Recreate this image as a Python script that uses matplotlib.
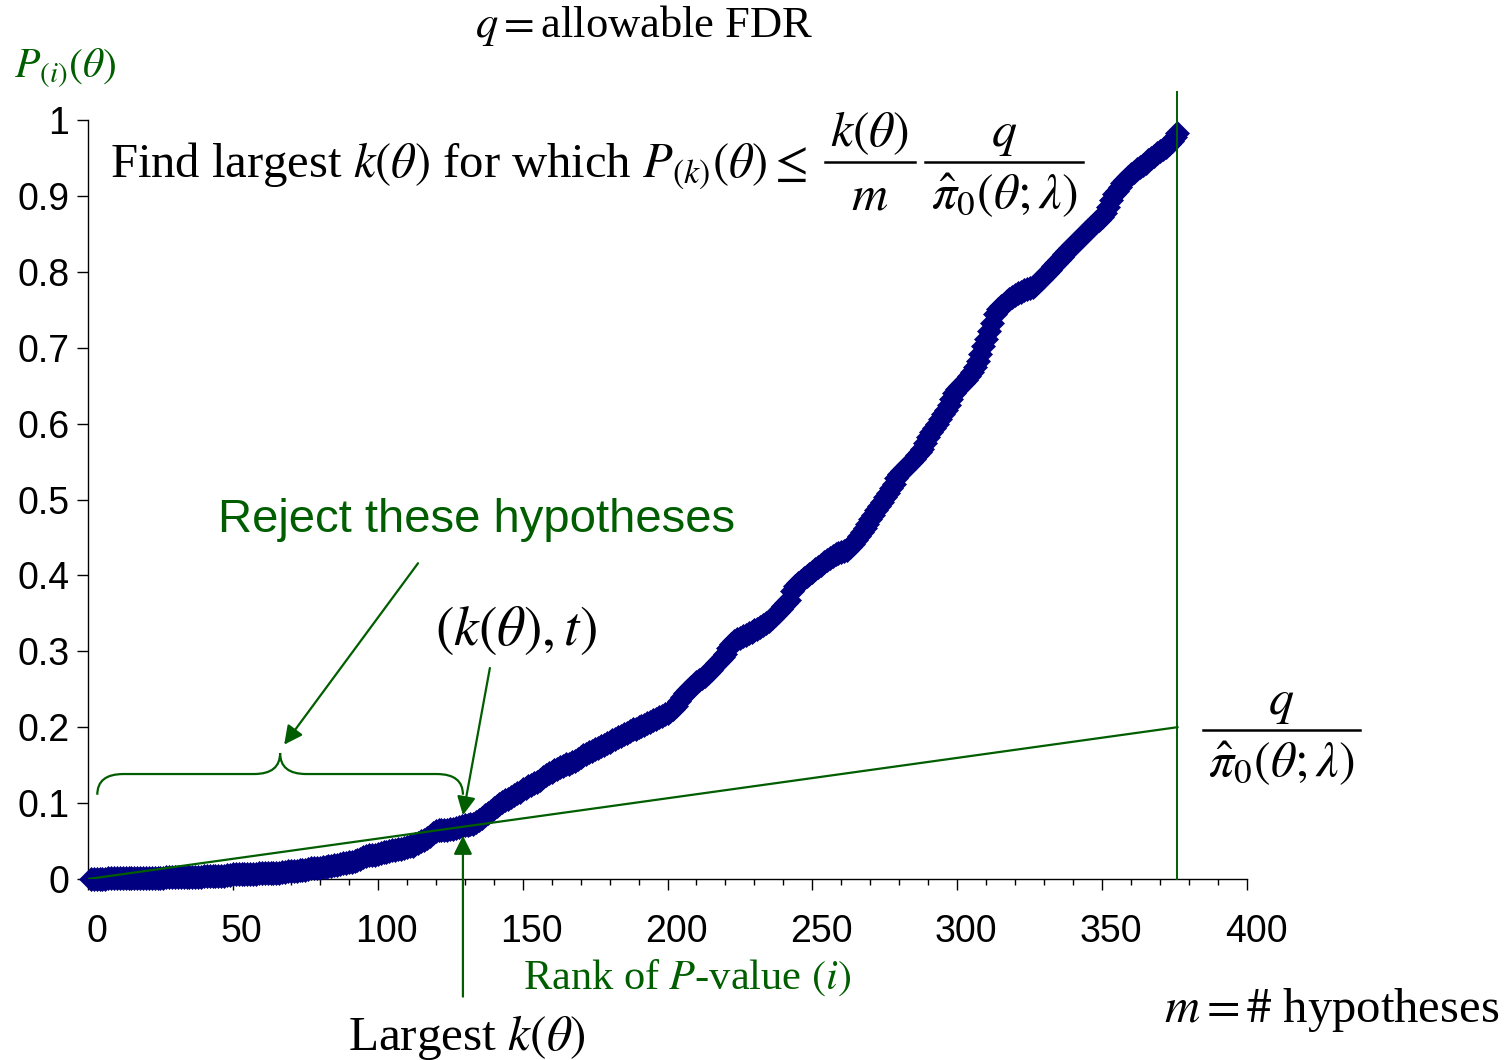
import numpy as np
import matplotlib
matplotlib.use("Agg")
import matplotlib.pyplot as plt
from matplotlib.lines import Line2D
from matplotlib.path import Path
from matplotlib.patches import PathPatch
from matplotlib.transforms import ScaledTranslation

plt.rcParams["mathtext.fontset"] = "stix"

# sorted p-values, one per rank i = 1..m
p_values = [
    0.000, 0.000, 0.000, 0.000, 0.000, 0.000, 0.001, 0.001, 0.001, 0.001,
    0.001, 0.001, 0.001, 0.001, 0.001, 0.001, 0.001, 0.001, 0.001, 0.001,
    0.001, 0.001, 0.001, 0.001, 0.001, 0.001, 0.002, 0.002, 0.003, 0.003,
    0.003, 0.003, 0.003, 0.003, 0.003, 0.003, 0.003, 0.003, 0.003, 0.004,
    0.004, 0.004, 0.004, 0.004, 0.004, 0.004, 0.004, 0.005, 0.005, 0.006,
    0.007, 0.007, 0.007, 0.007, 0.007, 0.007, 0.007, 0.007, 0.008, 0.008,
    0.008, 0.008, 0.008, 0.008, 0.008, 0.008, 0.009, 0.009, 0.010, 0.011,
    0.011, 0.011, 0.012, 0.012, 0.012, 0.013, 0.014, 0.015, 0.015, 0.015,
    0.016, 0.016, 0.017, 0.017, 0.018, 0.019, 0.020, 0.021, 0.021, 0.022,
    0.023, 0.024, 0.025, 0.027, 0.029, 0.030, 0.031, 0.032, 0.032, 0.033,
    0.034, 0.035, 0.036, 0.037, 0.038, 0.038, 0.039, 0.040, 0.041, 0.042,
    0.043, 0.044, 0.046, 0.048, 0.050, 0.052, 0.054, 0.057, 0.060, 0.063,
    0.064, 0.064, 0.065, 0.065, 0.066, 0.066, 0.067, 0.068, 0.070, 0.071,
    0.071, 0.072, 0.073, 0.075, 0.078, 0.081, 0.084, 0.087, 0.090, 0.093,
    0.096, 0.099, 0.102, 0.104, 0.106, 0.108, 0.111, 0.113, 0.115, 0.118,
    0.120, 0.122, 0.124, 0.126, 0.128, 0.131, 0.134, 0.137, 0.139, 0.141,
    0.143, 0.145, 0.147, 0.149, 0.151, 0.152, 0.154, 0.156, 0.158, 0.161,
    0.163, 0.165, 0.167, 0.169, 0.171, 0.173, 0.175, 0.177, 0.179, 0.181,
    0.183, 0.185, 0.187, 0.189, 0.191, 0.193, 0.195, 0.197, 0.198, 0.200,
    0.202, 0.203, 0.205, 0.207, 0.209, 0.211, 0.213, 0.215, 0.217, 0.219,
    0.221, 0.224, 0.228, 0.234, 0.240, 0.245, 0.249, 0.253, 0.256, 0.259,
    0.262, 0.265, 0.268, 0.272, 0.276, 0.280, 0.284, 0.288, 0.292, 0.296,
    0.305, 0.310, 0.314, 0.316, 0.318, 0.320, 0.322, 0.324, 0.326, 0.328,
    0.330, 0.332, 0.334, 0.337, 0.340, 0.344, 0.348, 0.352, 0.356, 0.360,
    0.364, 0.368, 0.380, 0.386, 0.390, 0.393, 0.396, 0.399, 0.402, 0.405,
    0.408, 0.411, 0.414, 0.417, 0.420, 0.423, 0.426, 0.428, 0.430, 0.431,
    0.432, 0.434, 0.438, 0.442, 0.447, 0.452, 0.457, 0.462, 0.468, 0.474,
    0.480, 0.486, 0.491, 0.497, 0.503, 0.509, 0.515, 0.521, 0.528, 0.533,
    0.537, 0.541, 0.545, 0.550, 0.554, 0.558, 0.563, 0.567, 0.575, 0.582,
    0.589, 0.594, 0.600, 0.606, 0.612, 0.618, 0.625, 0.633, 0.640, 0.646,
    0.650, 0.654, 0.658, 0.663, 0.668, 0.674, 0.682, 0.692, 0.702, 0.712,
    0.722, 0.733, 0.745, 0.751, 0.755, 0.758, 0.761, 0.764, 0.767, 0.770,
    0.772, 0.774, 0.776, 0.777, 0.778, 0.780, 0.783, 0.787, 0.791, 0.795,
    0.799, 0.803, 0.807, 0.811, 0.815, 0.819, 0.823, 0.827, 0.831, 0.835,
    0.839, 0.843, 0.847, 0.851, 0.855, 0.859, 0.862, 0.865, 0.868, 0.872,
    0.878, 0.886, 0.895, 0.902, 0.907, 0.912, 0.917, 0.921, 0.925, 0.929,
    0.932, 0.935, 0.938, 0.941, 0.944, 0.947, 0.950, 0.953, 0.956, 0.959,
    0.962, 0.965, 0.968, 0.972, 0.977, 0.983,
]
q_over_pi0 = 0.2  # q / pi0_hat(theta; lambda)

x_ticks = [0, 50, 100, 150, 200, 250, 300, 350, 400]
y_ticks = [0, 0.1, 0.2, 0.3, 0.4, 0.5, 0.6, 0.7, 0.8, 0.9, 1]
y_tick_labels = ["0", "0.1", "0.2", "0.3", "0.4", "0.5", "0.6", "0.7", "0.8", "0.9", "1"]

GREEN = "#005e00"
NAVY = "#000080"
SERIF = "Liberation Serif"
SANS = "Liberation Sans"

ranks = np.arange(1, len(p_values) + 1)
m = len(p_values)
pv = np.array(p_values)

# BH step-up: largest rank whose p-value sits under the line i/m * q/pi0
bh_line = ranks / m * q_over_pi0
passing = np.nonzero(pv <= bh_line)[0]
k = ranks[passing[-1]]
t = pv[passing[-1]]

W, H = 1504, 1060
fig = plt.figure(figsize=(W / 100, H / 100), dpi=100)
ax = fig.add_axes([88 / W, 181 / H, (1247 - 88) / W, (879 - 120) / H])


def fpos(x, y):
    # pixel position (from top-left) -> figure fraction
    return x / W, 1 - y / H


def fraction(x0, x1, ybar, num, den, size):
    # stacked fraction with a drawn bar, positions in pixels
    xc = (x0 + x1) / 2
    fig.text(*fpos(xc, ybar - 16), num, fontsize=size, ha="center", va="baseline")
    fig.text(*fpos(xc, ybar + 47), den, fontsize=size, ha="center", va="baseline")
    fig.add_artist(Line2D([x0 / W, x1 / W], [1 - ybar / H] * 2, color="black",
                          lw=1.8, transform=fig.transFigure))


ax.plot(ranks, pv, linestyle="none", marker="D", ms=12, color=NAVY,
        mec=NAVY, mew=0.5, clip_on=False, zorder=3)
ax.plot([0, m], [0, q_over_pi0], color=GREEN, lw=1.6, zorder=4)
ax.plot([m, m], [0, 1.037], color=GREEN, lw=1.4, clip_on=False, zorder=4)

ax.set_xlim(0, 400)
ax.set_ylim(0, 1)
for side in ("top", "right"):
    ax.spines[side].set_visible(False)
for side in ("left", "bottom"):
    ax.spines[side].set_linewidth(1.0)

ax.set_xticks(x_ticks)
ax.set_xticks(np.arange(0, 401, 10), minor=True)
ax.set_yticks(y_ticks)
ax.set_yticklabels(y_tick_labels)
ax.tick_params(axis="x", which="major", direction="out", length=8, width=1,
               pad=17, labelsize=27)
ax.tick_params(axis="x", which="minor", direction="out", length=4.5, width=1)
ax.tick_params(axis="y", direction="out", length=8, width=1, pad=5.5, labelsize=27)
for lbl in ax.get_xticklabels() + ax.get_yticklabels():
    lbl.set_fontfamily(SANS)
shift = ScaledTranslation(9 / 100, 0, fig.dpi_scale_trans)
for lbl in ax.get_xticklabels():
    lbl.set_transform(lbl.get_transform() + shift)

# brace over the rejected ranks
bx0, bx1 = 3.2, k + 1.4
bmid = (bx0 + bx1) / 2
by, bend, btip = 0.1383, 0.111, 0.166
dx = 9.0
verts = [
    (bx0, bend), (bx0, by), (bx0 + dx, by),
    (bmid - dx, by),
    (bmid, by), (bmid, btip),
    (bmid, by), (bmid + dx, by),
    (bx1 - dx, by),
    (bx1, by), (bx1, bend),
]
codes = [Path.MOVETO, Path.CURVE3, Path.CURVE3, Path.LINETO,
         Path.CURVE3, Path.CURVE3, Path.CURVE3, Path.CURVE3,
         Path.LINETO, Path.CURVE3, Path.CURVE3]
ax.add_patch(PathPatch(Path(verts, codes), fill=False, edgecolor=GREEN,
                       lw=1.6, clip_on=False))

arrow = dict(arrowstyle="-|>", color=GREEN, lw=1.6, mutation_scale=28,
             shrinkA=0, shrinkB=0)
ax.annotate("", xy=(bmid + 1.4, btip + 0.011), xytext=(113.9, 0.416),
            arrowprops=arrow, annotation_clip=False)
ax.annotate("", xy=(k + 1.4, t + 0.016), xytext=(k + 10.7, 0.278),
            arrowprops=arrow, annotation_clip=False)
ax.annotate("", xy=(k + 1.4, t - 0.011), xytext=(k + 1.4, -0.155),
            arrowprops=arrow, annotation_clip=False)

# labels and formulas
fig.text(*fpos(644, 25), r"$q = $allowable FDR", fontsize=32, family=SERIF,
         ha="center", va="center")
fig.text(*fpos(65, 68), r"$P_{(i)}(\theta)$", fontsize=30, color=GREEN,
         ha="center", va="center")
fig.text(*fpos(110, 177),
         r"Find largest $k(\theta)$ for which $P_{(k)}(\theta) \leq$",
         fontsize=35, family=SERIF, ha="left", va="baseline")
fraction(825, 915, 162, r"$k(\theta)$", r"$m$", 36)
fraction(925, 1083, 162, r"$q$", r"$\hat{\pi}_0(\theta;\lambda)$", 36)
fig.text(*fpos(477, 520), "Reject these hypotheses", fontsize=34, family=SANS,
         color=GREEN, ha="center", va="center")
fig.text(*fpos(516, 630), r"$(k(\theta),t)$", fontsize=40,
         ha="center", va="center")
fraction(1203, 1360, 730, r"$q$", r"$\hat{\pi}_0(\theta;\lambda)$", 36)
fig.text(*fpos(687, 978), r"Rank of $P$-value $(i)$", fontsize=30.5,
         family=SERIF, color=GREEN, ha="center", va="center")
fig.text(*fpos(467, 1037), r"Largest $k(\theta)$", fontsize=35.5, family=SERIF,
         ha="center", va="center")
fig.text(*fpos(1332, 1010), r"$m = \#$ hypotheses", fontsize=35, family=SERIF,
         ha="center", va="center")

fig.savefig("out.png", dpi=100)
